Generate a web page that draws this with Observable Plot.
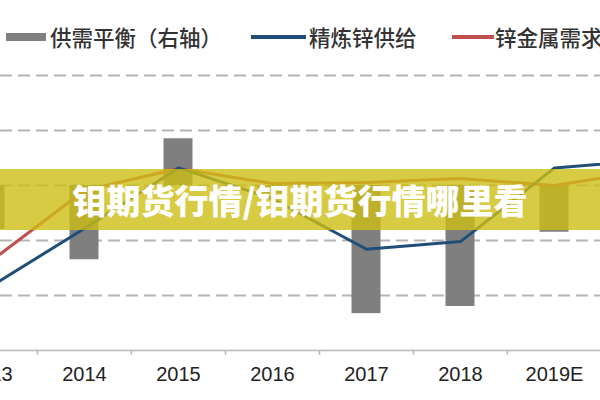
<!DOCTYPE html>
<html>
<head>
<meta charset="utf-8">
<script src="https://cdn.jsdelivr.net/npm/d3@7"></script>
<script src="https://cdn.jsdelivr.net/npm/@observablehq/plot@0.6"></script>
<style>
  html, body { margin: 0; padding: 0; background: #fff; }
  #wrap { position: relative; width: 600px; height: 400px; overflow: hidden; background: #fff;
          font-family: "Noto Sans CJK SC", "Noto Sans", sans-serif; }
  #legend { position: absolute; left: 0; top: 0; width: 600px; height: 70px; }
  .sw { position: absolute; }
  .lt { position: absolute; top: 23px; font-size: 21.5px; line-height: 28px; color: #333; font-weight: 500; white-space: nowrap; }
  #chart { position: absolute; left: 0; top: 70px; width: 600px; height: 330px; }
  #banner { position: absolute; left: 0; top: 169px; width: 600px; height: 61px;
            background: rgba(205,190,20,0.8); color: #fff; text-align: center;
            font-family: "Noto Sans CJK SC", sans-serif; font-weight: 900; font-size: 34px; line-height: 61px; }
</style>
</head>
<body>
<div id="wrap">
  <div id="legend">
    <div class="sw" style="left:6px; top:33px; width:40px; height:8px; background:#7f7f7f;"></div>
    <div class="lt" style="left:50px;">供需平衡（右轴）</div>
    <div class="sw" style="left:251px; top:35px; width:55px; height:4px; background:#1f4e79;"></div>
    <div class="lt" style="left:309px;">精炼锌供给</div>
    <div class="sw" style="left:452px; top:35px; width:42px; height:4px; background:#c0504d;"></div>
    <div class="lt" style="left:495px;">锌金属需求</div>
  </div>
  <div id="chart"></div>
  <div id="banner">钼期货行情/钼期货行情哪里看</div>
</div>
<script>
// Categories (x axis)
const years = ["2013", "2014", "2015", "2016", "2017", "2018", "2019E", "2020E"];
// Left axis series (kt)
const refinedSupply = [12790, 13055, 13330, 13190, 12960, 12995, 13330, 13365];
const metalDemand   = [12905, 13227, 13327, 13259, 13264, 13282, 13250, 13318];
// Right axis series: supply-demand balance (kt)
const balance = [-80, -135, 85, -15, -233, -220, -85, -60];
// Left axis gridline values
const gridTicks = [12750, 13000, 13250, 13500, 13750];
const axisBase = 12500;
// Right axis mapping onto left scale: right 0 -> left 13250, 100 right = 250 left
const rightZero = 13250, rightFactor = 2.5;

const rows = years.map((y, i) => ({
  year: y,
  supply: refinedSupply[i],
  demand: metalDemand[i],
  bal: balance[i]
}));

const chart = Plot.plot({
  width: 600,
  height: 330,
  marginTop: 5,
  marginBottom: 50,
  marginLeft: 0,
  marginRight: 0,
  style: { fontFamily: "'Liberation Sans', Arial, sans-serif", background: "transparent", overflow: "visible" },
  x: { type: "band", domain: years, range: [-57, 695], padding: 0, axis: null },
  y: { domain: [12500, 13750], axis: null },
  marks: [
    Plot.ruleY(gridTicks, { stroke: "#b4b4b4", strokeWidth: 2, strokeDasharray: "12,6" }),
    Plot.barY(rows, {
      x: "year",
      y1: () => rightZero,
      y2: d => rightZero + d.bal * rightFactor,
      fill: "#7f7f7f",
      insetLeft: 32.5,
      insetRight: 32.5
    }),
    Plot.ruleY([axisBase], { stroke: "#b8b8b8", strokeWidth: 1.5 }),
    Plot.ruleX(years, { x: d => d, dx: -47, y1: axisBase, y2: axisBase - 22, stroke: "#b8b8b8", strokeWidth: 1.5 }),
    Plot.lineY(rows, { x: "year", y: "demand", stroke: "#c0504d", strokeWidth: 3 }),
    Plot.lineY(rows, { x: "year", y: "supply", stroke: "#1f4e79", strokeWidth: 3 }),
    Plot.text(rows, { x: "year", y: () => axisBase, dy: 24, text: "year", fontSize: 20, fill: "#222" })
  ]
});
document.getElementById("chart").appendChild(chart);
</script>
</body>
</html>
